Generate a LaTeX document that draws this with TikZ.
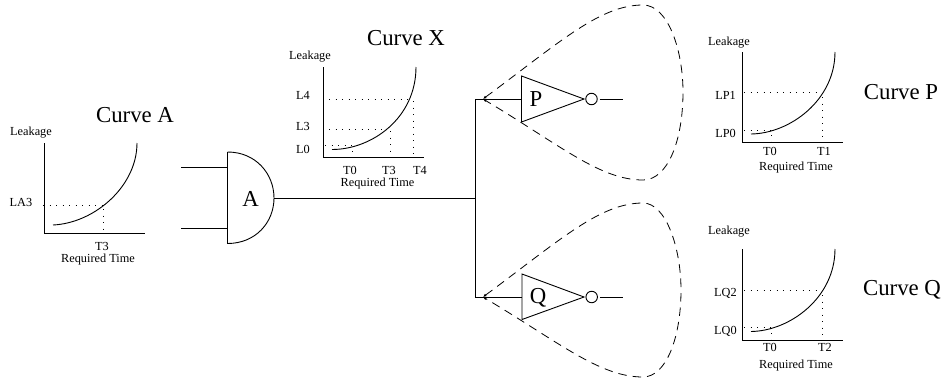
\documentclass[tikz,border=0pt]{standalone}
\usepackage{fontspec}
\setmainfont{Liberation Serif}
\usetikzlibrary{arrows.meta,positioning}
\begin{document}
\begin{tikzpicture}[
  x=1pt,y=-1pt,
  lbl/.style={inner sep=0pt,font=\fontsize{12.3}{13}\selectfont},
  ttl/.style={inner sep=0pt,font=\fontsize{22.8}{24}\selectfont},
  wire/.style={line width=0.9pt},
  crv/.style={line width=0.9pt},
  dot/.style={line width=0.9pt,dash pattern=on 1pt off 5.5pt},
  loop/.style={line width=0.8pt,dash pattern=on 8.5pt off 6pt,
               {Latex[length=3.5pt,width=3pt]}-{Latex[length=3.5pt,width=3pt]}},
  bub/.style={draw,circle,line width=0.9pt,minimum size=11.5pt,inner sep=0pt}
]
\useasboundingbox (0,0) rectangle (946,383);

% ---- curve A
\node[ttl] (cA) at (135,115) {Curve A};
\node[lbl] (yA) at (31,133) {Leakage};
\node[lbl] (lA3) at (21,202) {LA3};
\node[lbl] (tA3) at (102,246.5) {T3};
\node[lbl] (xA) at (98,259.5) {Required Time};
\draw[crv] (44.5,143) -- (44.5,233) -- (145,233);
\draw[crv] (53,225) .. controls (95,223) and (137,186) .. (137,143);
\draw[dot] (43,205.5) -- (103,205.5);
\draw[dot] (103,209) -- (103,233);

% ---- curve X
\node[ttl] (cX) at (406,38) {Curve X};
\node[lbl] (yX) at (310,57) {Leakage};
\node[lbl] (lX4) at (303,95) {L4};
\node[lbl] (lX3) at (303,126) {L3};
\node[lbl] (lX0) at (303,149) {L0};
\node[lbl] (tX0) at (350,170.5) {T0};
\node[lbl] (tX3) at (389,170.5) {T3};
\node[lbl] (tX4) at (420,170.5) {T4};
\node[lbl] (xX) at (377.5,183.5) {Required Time};
\draw[crv] (323.5,67) -- (323.5,157) -- (424,157);
\draw[crv] (332,149.5) .. controls (372,149.5) and (416,118) .. (416,67);
\draw[dot] (329,99) -- (411,99);
\draw[dot] (329,129.5) -- (386,129.5);
\draw[dot] (325,145) -- (352,145);
\draw[dot] (413,101) -- (413,157);
\draw[dot] (390,131) -- (390,157);
\draw[dot] (352.5,151) -- (352.5,157);

% ---- curve P
\node[ttl] (cP) at (901,92) {Curve P};
\node[lbl] (yP) at (729,43) {Leakage};
\node[lbl] (lP1) at (725.5,95) {LP1};
\node[lbl] (lP0) at (725.5,133) {LP0};
\node[lbl] (tP0) at (770,151) {T0};
\node[lbl] (tP1) at (824,151) {T1};
\node[lbl] (xP) at (796,168) {Required Time};
\draw[crv] (742,52) -- (742,142) -- (843,142);
\draw[crv] (751,134) .. controls (790,133.5) and (835,100) .. (835,52);
\draw[dot] (744,92.7) -- (817,92.7);
\draw[dot] (744,130) -- (771,130);
\draw[dot] (822,97) -- (822,142);
\draw[dot] (771.7,135) -- (771.7,142);

% ---- curve Q
\node[ttl] (cQ) at (902,290) {Curve Q};
\node[lbl] (yQ) at (729,232) {Leakage};
\node[lbl] (lQ2) at (725.5,293) {LQ2};
\node[lbl] (lQ0) at (725.5,331) {LQ0};
\node[lbl] (tQ0) at (770,347.5) {T0};
\node[lbl] (tQ2) at (825,347.5) {T2};
\node[lbl] (xQ) at (796,365.5) {Required Time};
\draw[crv] (742,249) -- (742,340) -- (843,340);
\draw[crv] (751,331.5) .. controls (790,331) and (835,297.5) .. (835,249);
\draw[dot] (744,290.7) -- (817,290.7);
\draw[dot] (744,327.7) -- (771,327.7);
\draw[dot] (822,295) -- (822,340);
\draw[dot] (771.7,333) -- (771.7,340);

% ---- porta A
\coordinate (gAt) at (227.5,152);
\coordinate (gAb) at (227.5,243.5);
\coordinate (gAo) at (274,198);
\coordinate (inA1) at (181,167.5);
\coordinate (inA2) at (181,228);
\coordinate (junc) at (475,198);
\node[ttl] (gA) at (250.5,199) {A};
\draw[wire] (gAt) -- (gAb) .. controls (256,243.5) and (274,222) .. (gAo) .. controls (274,174) and (256,152) .. (gAt);
\draw[wire] (inA1) -- (inA1 -| gAt);
\draw[wire] (inA2) -- (inA2 -| gAt);
\draw[wire] (gAo) -- (junc);

% ---- inversores
\coordinate (brP) at (475,99);
\coordinate (brQ) at (475,297);
\coordinate (tPt) at (521.5,76);
\coordinate (tPb) at (521.5,122);
\coordinate (tPa) at (584,99);
\coordinate (oP) at (622.5,99);
\coordinate (tQt) at (522,274);
\coordinate (tQb) at (522,319.5);
\coordinate (tQa) at (584,297);
\coordinate (oQ) at (622.5,297);
\node[ttl] (gP) at (536,99) {P};
\node[ttl] (gQ) at (538,298) {Q};
\node[bub] (bP) at (591.5,99) {};
\node[bub] (bQ) at (591.7,297) {};
\draw[wire] (tPt) -- (tPb) -- (tPa) -- cycle;
\draw[wire] (tQt) -- (tQb) -- (tQa) -- cycle;
\draw[wire] (brP) -- (brQ);
\draw[wire] (brP) -- (brP -| tPt);
\draw[wire] (brQ) -- (brQ -| tQt);
\draw[wire] ([xshift=2pt]bP.east) -- (oP);
\draw[wire] ([xshift=2pt]bQ.east) -- (oQ);

% ---- laços tracejados
\draw[loop] (483,99) .. controls (560,42) and (600,5) .. (643,5) .. controls (668,5) and (683,50) .. (683,92) .. controls (683,140) and (668,180) .. (643,180) .. controls (600,180) and (560,145) .. (483,99);
\draw[loop] (483,297) .. controls (560,240) and (600,203) .. (643,203) .. controls (666,203) and (681,248) .. (681,290) .. controls (681,338) and (666,377) .. (643,377) .. controls (600,377) and (560,343) .. (483,297);
\end{tikzpicture}
\end{document}
